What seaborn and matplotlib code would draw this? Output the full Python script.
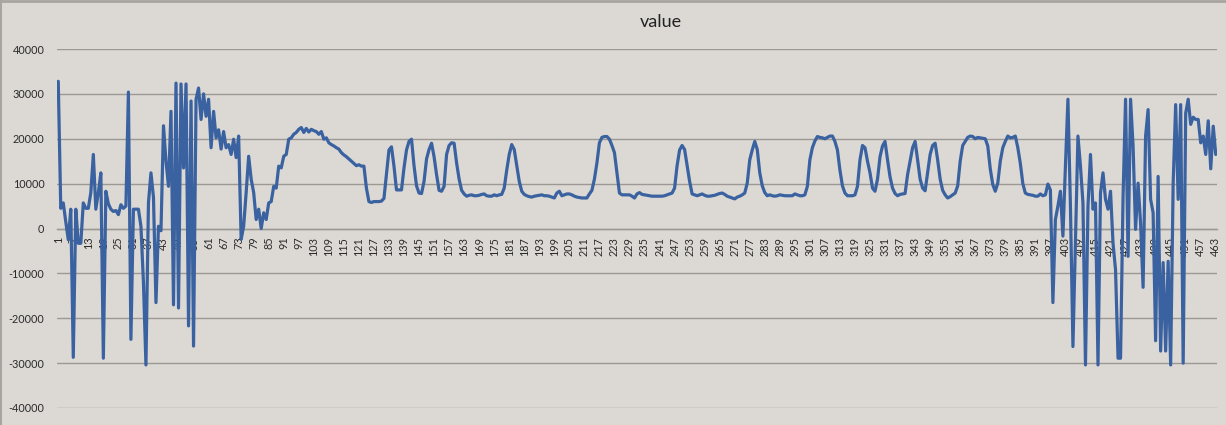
import matplotlib
matplotlib.use('Agg')
import matplotlib.pyplot as plt
import matplotlib.ticker as mticker
import pandas as pd
import seaborn as sns

# valores, 10 por linha (pontos 1..463)
vals_001 = [32800, 4500, 5700, 1500, -2500, 4300, -28700, 4300, -3300, -3300,
            5700, 4500, 4500, 8000, 16500, 4300, 8000, 12400, -28900, 8300,
            5500, 4300, 3800, 4000, 3100, 5300, 4500, 5000, 30400, -24700,
            4300, 4300, 4300, 500, -12000, -30400, 5700, 12400, 7000, -16500]
vals_041 = [500, -500, 22900, 15000, 9400, 26100, -17000, 32400, -17700, 32200,
            13500, 32200, -21700, 28400, -26200, 28800, 31300, 24300, 30000, 25000,
            28800, 18000, 26100, 20200, 22000, 17700, 21600, 18000, 18700, 16500,
            19900, 15800, 20600, -2400, 500, 8000, 16100, 11000, 8000, 2000]
vals_081 = [4300, 0, 3500, 2000, 5700, 6000, 9400, 9000, 13900, 13500,
            16100, 16500, 19900, 20200, 21000, 21400, 22100, 22500, 21400, 22300,
            21500, 22100, 21800, 21600, 21000, 21600, 19900, 20200, 19100, 18700,
            18400, 18000, 17700, 16900, 16400, 16000, 15500, 15000, 14500, 14000]
vals_121 = [14200, 13900, 13900, 9000, 6000, 5800, 6000, 6000, 6000, 6100,
            6700, 12000, 17500, 18200, 13900, 8600, 8600, 8600, 13500, 17500,
            19400, 19900, 14000, 9500, 7900, 7800, 10500, 15500, 17600, 19000,
            16000, 12000, 8500, 8300, 9400, 16500, 18500, 19100, 19000, 14600]
vals_161 = [11000, 8500, 7700, 7200, 7400, 7500, 7300, 7300, 7400, 7600,
            7700, 7300, 7200, 7200, 7500, 7300, 7500, 7600, 9000, 13000,
            16500, 18700, 17600, 14000, 10500, 8300, 7600, 7300, 7100, 7000,
            7200, 7300, 7400, 7500, 7300, 7300, 7200, 7000, 6800, 7900]
vals_201 = [8300, 7300, 7500, 7700, 7700, 7500, 7200, 7000, 6900, 6800,
            6800, 6800, 7700, 8500, 11000, 14600, 19100, 20300, 20500, 20500,
            19900, 18500, 16900, 12400, 7900, 7500, 7500, 7500, 7500, 7200,
            6800, 7700, 8000, 7600, 7500, 7400, 7300, 7200, 7200, 7200]
vals_241 = [7200, 7200, 7300, 7500, 7700, 7900, 9000, 14000, 17500, 18500,
            17600, 14000, 10500, 7700, 7500, 7300, 7500, 7700, 7400, 7200,
            7200, 7300, 7400, 7600, 7800, 7900, 7600, 7200, 7000, 6800,
            6600, 7000, 7200, 7500, 7900, 10100, 15300, 17500, 19400, 17600]
vals_281 = [12400, 9500, 8000, 7300, 7500, 7300, 7200, 7300, 7500, 7400,
            7300, 7300, 7300, 7300, 7700, 7500, 7300, 7300, 7500, 9400,
            15300, 18000, 19500, 20500, 20300, 20200, 20000, 20300, 20600, 20600,
            19400, 17500, 13000, 9500, 7900, 7300, 7300, 7300, 7500, 9400]
vals_321 = [15300, 18500, 18000, 15000, 12400, 9000, 8300, 11000, 16000, 18400,
            19400, 15300, 11500, 9000, 7800, 7300, 7600, 7700, 7800, 12000,
            15000, 18000, 19400, 15300, 11000, 9000, 8400, 12400, 16500, 18500,
            19000, 15300, 11000, 8500, 7500, 6800, 7100, 7500, 7900, 9500]
vals_361 = [15000, 18500, 19400, 20300, 20600, 20500, 20000, 20300, 20200, 20100,
            20000, 18400, 13300, 9800, 8300, 10100, 15000, 18000, 19400, 20600,
            20200, 20300, 20600, 18000, 14500, 10000, 7900, 7600, 7500, 7400,
            7200, 7200, 7700, 7300, 7500, 9900, 8600, -16500, 2000, 5000]
vals_401 = [8300, -1700, 13900, 28800, 5000, -26300, -2400, 20600, 13900, 5700,
            -30400, 5000, 16500, 4300, 5700, -30400, 7900, 12400, 6500, 4300,
            8300, -3300, -9200, -28900, -28900, 7000, 28800, -6200, 28800, 18400,
            -200, 10100, 1200, -13100, 20600, 26500, 6500, 3500, -25000, 11600]
vals_441 = [-27300, -7600, -27300, -7300, -30400, 10100, 27600, 6500, 27600, -30000,
            25700, 28800, 23200, 24800, 24300, 24300, 19100, 20600, 16500, 24000,
            13300, 22800, 16500]

values = (vals_001 + vals_041 + vals_081 + vals_121 + vals_161 + vals_201 +
          vals_241 + vals_281 + vals_321 + vals_361 + vals_401 + vals_441)
points = list(range(1, len(values) + 1))
tick_points = list(range(1, len(values) + 1, 6))
y_ticks = [-40000, -30000, -20000, -10000, 0, 10000, 20000, 30000, 40000]

df = pd.DataFrame({'ponto': points, 'value': values})

bg = '#dcd9d5'
grid = '#9c9894'
sns.set_style('white', {'axes.facecolor': bg, 'figure.facecolor': bg})
plt.rcParams['font.family'] = ['Lato', 'DejaVu Sans']

fig = plt.figure(figsize=(12.26, 4.25), dpi=100)
ax = fig.add_axes([57 / 1226, 1 - 408 / 425, 1160 / 1226, 359 / 425])

sns.lineplot(data=df, x='ponto', y='value', color='#3b62a0', linewidth=2.3, ax=ax, zorder=3)

# eixo x cruzando no zero (como no Excel) -- antes de mexer nos ticks
for s in ['left', 'right', 'top']:
    ax.spines[s].set_visible(False)
ax.spines['bottom'].set_position(('data', 0))
ax.spines['bottom'].set_color(grid)
ax.spines['bottom'].set_linewidth(1)

ax.set_xlim(0.5, len(values) + 0.5)
ax.set_ylim(-40000, 40000)
ax.set_yticks(y_ticks)
ax.yaxis.set_major_formatter(mticker.FuncFormatter(lambda v, p: '%d' % v))
ax.set_xticks(tick_points)
ax.set_xticklabels([str(t) for t in tick_points])
ax.tick_params(axis='y', labelsize=7.8, labelcolor='#2a2a2a', length=0, pad=9)
ax.tick_params(axis='x', labelsize=7.8, labelcolor='#2a2a2a', labelrotation=90, length=0, pad=6)
ax.grid(axis='y', color=grid, linewidth=1)
ax.set_axisbelow(True)
ax.set_xlabel('')
ax.set_ylabel('')

fig.text(661 / 1226, 1 - 22 / 425, 'value', ha='center', va='center', fontsize=13, color='#222222')
# bordas do print (topo e lado esquerdo)
fig.add_artist(plt.Line2D([0, 1], [1 - 1 / 425, 1 - 1 / 425], color='#a8a4a0', linewidth=2))
fig.add_artist(plt.Line2D([0.5 / 1226, 0.5 / 1226], [0, 1], color='#a8a4a0', linewidth=1.5))

fig.savefig('out.png', dpi=100, facecolor=bg)
